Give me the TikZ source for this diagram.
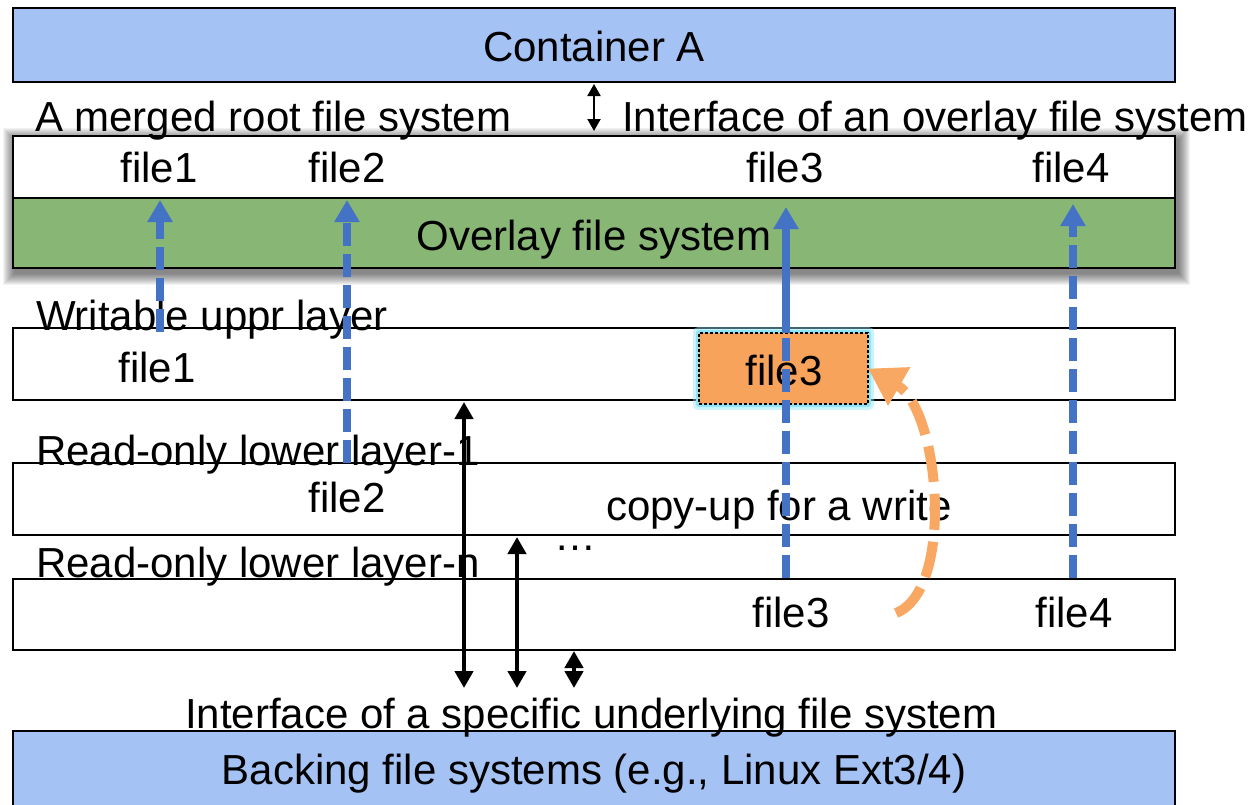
\documentclass[tikz,border=0pt]{standalone}
\usepackage{fontspec}
\setmainfont{Liberation Sans}
\usetikzlibrary{arrows.meta}
\definecolor{paneblue}{HTML}{A4C2F4}
\definecolor{ovgreen}{HTML}{88B775}
\definecolor{flowblue}{HTML}{4472C4}
\definecolor{cuorange}{HTML}{F7A35C}
\definecolor{cuarrow}{HTML}{F8A862}
\definecolor{glowcyan}{HTML}{8EE6F8}

\tikzset{
  band/.style={draw=black, line width=2pt, inner sep=0pt, outer sep=0pt,
    minimum width=1162pt, anchor=north west},
  txt/.style={font=\fontsize{42}{48}\selectfont, inner sep=0pt, outer sep=0pt},
  flow/.style={draw=flowblue, line width=7.4pt, dash pattern=on 23pt off 8pt,
    -{Triangle[width=24pt,length=22pt]}},
  flowsolid/.style={draw=flowblue, line width=7.4pt},
  io/.style={draw=black, line width=4.5pt,
    {Triangle[width=18pt,length=17pt]}-{Triangle[width=18pt,length=17pt]}},
  iothin/.style={draw=black, line width=2pt,
    {Triangle[width=13pt,length=12pt]}-{Triangle[width=13pt,length=12pt]}},
  copyup/.style={draw=cuarrow, line width=10pt, dash pattern=on 36pt off 12pt,
    -{Triangle[width=42pt,length=36pt]}},
}

\begin{document}
\begin{tikzpicture}[x=1pt,y=-1pt]
\useasboundingbox (0,0) rectangle (1258,804);

% soft shadow under the merged view
\foreach \k in {1,...,12}
  \fill[black, opacity=0.05] (15-\k,140-\k) rectangle (1178+\k,273+\k);

% layer bands
\node[band, fill=paneblue, minimum height=74pt] (contA) at (13,8) {};
\node[band, fill=white, minimum height=62pt] (merged) at (13,136) {};
\node[band, fill=ovgreen, minimum height=70pt] (ovl) at (13,198) {};
\node[band, fill=white, minimum height=72pt] (upper) at (13,328) {};
\node[band, fill=white, minimum height=72pt] (lower1) at (13,463) {};
\node[band, fill=white, minimum height=71pt] (lowern) at (13,579) {};
\node[band, fill=paneblue, minimum height=95pt] (backing) at (13,731) {};

% copied-up file in the upper layer
\fill[glowcyan, opacity=0.45, rounded corners=5pt] (693,327) rectangle (874,410);
\fill[glowcyan, rounded corners=3pt] (696,330) rectangle (871,407);
\node[draw=black, line width=1.3pt, dash pattern=on 3pt off 2pt, fill=cuorange,
  inner sep=0pt, outer sep=0pt, minimum width=169pt, minimum height=71pt,
  anchor=north west] (fb3) at (699,333) {};

% labels
\node[txt, anchor=base] (contAtxt) at (594,61) {Container A};
\node[txt, anchor=base west] (mergedlbl) at (35,131) {A merged root file system};
\node[txt, anchor=base west] (ovliface) at (622,131) {Interface of an overlay file system};
\node[txt, anchor=base] (m1) at (159,182) {file1};
\node[txt, anchor=base] (m2) at (347,182) {file2};
\node[txt, anchor=base] (m3) at (785,182) {file3};
\node[txt, anchor=base] (m4) at (1071,182) {file4};
\node[txt, anchor=base] (ovltxt) at (594,250) {Overlay file system};

\node[txt, anchor=base west] (upperlbl) at (36,330) {Writable uppr layer};
\node[txt, anchor=base] (u1) at (157,382) {file1};
\node[txt, anchor=base] (u3) at (784,385) {file3};

\node[txt, anchor=base west] (lower1lbl) at (36,465) {Read-only lower layer-1};
\node[txt, anchor=base] (l2) at (347,512) {file2};
\node[txt, anchor=base west] (cutxt) at (606,520) {copy-up for a write};
\node[txt, anchor=base] (dots) at (575,550) {…};

\node[txt, anchor=base west] (lowernlbl) at (36,577) {Read-only lower layer-n};
\node[txt, anchor=base] (n3) at (791,627) {file3};
\node[txt, anchor=base] (n4) at (1074,627) {file4};

\node[txt, anchor=base west] (backiface) at (185,728) {Interface of a specific underlying file system};
\node[txt, anchor=base] (backtxt) at (594,784) {Backing file systems (e.g., Linux Ext3/4)};

% interfaces
\draw[iothin] ([yshift=-2pt]contA.south) -- ([yshift=5pt]contA.south |- merged.north);
\coordinate (io1) at (464,688);
\coordinate (io2) at (517,688);
\coordinate (io3) at (574,688);
\draw[io] ([yshift=-2pt]io1 |- upper.south) -- (io1);
\draw[io] ([yshift=-2pt]io2 |- lower1.south) -- (io2);
\draw[io] ([yshift=-1pt]io3 |- lowern.south) -- (io3);

% lookups through the overlay
\coordinate (c1) at (160,332);
\coordinate (c2) at (347,463);
\coordinate (c3) at (786,578);
\coordinate (c4) at (1073,578);
\draw[flow] (c1) -- ([yshift=-2pt]c1 |- ovl.north);
\draw[flow] (c2) -- ([yshift=-2pt]c2 |- ovl.north);
\draw[flow] (c3) -- ([yshift=-9pt]c3 |- ovl.north);
\draw[flowsolid] (c3 |- fb3.north) -- ([yshift=-22pt]c3 |- ovl.north);
\draw[flow] (c4) -- ([yshift=-6pt]c4 |- ovl.north);

% copy-up
\coordinate (cu0) at (896,613);
\draw[copyup] (cu0) .. controls (955,590) and (940,410) .. (fb3.east);
\end{tikzpicture}
\end{document}
